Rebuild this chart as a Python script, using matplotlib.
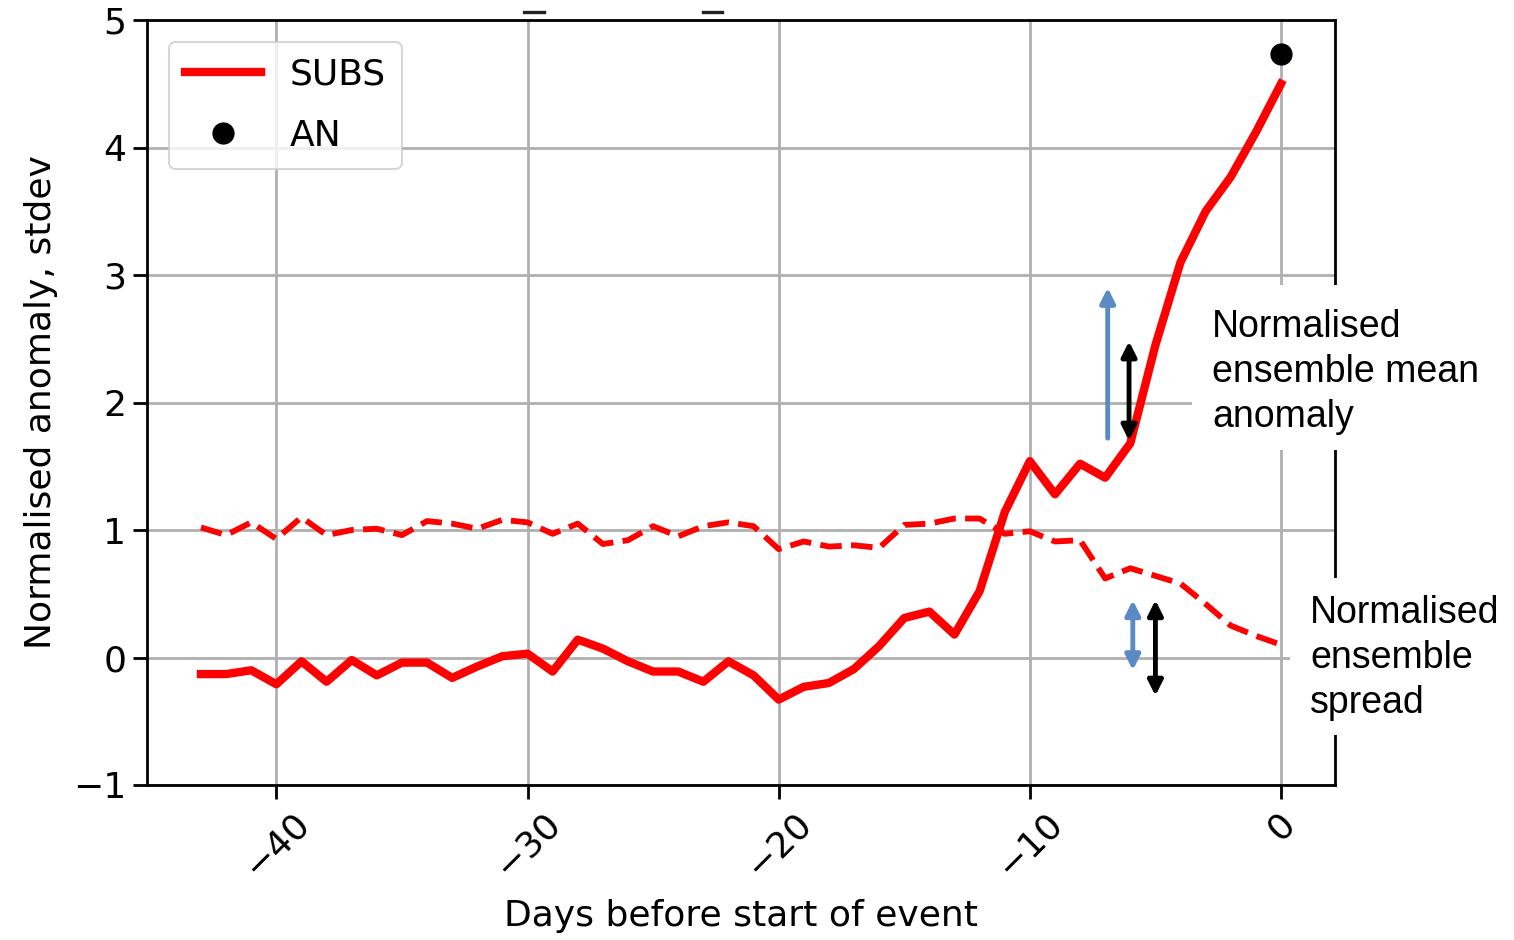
import matplotlib
matplotlib.use("Agg")
import matplotlib.pyplot as plt
from matplotlib.patches import Rectangle
from matplotlib.lines import Line2D

days = list(range(-43, 1))
subs_mean = [-0.13, -0.13, -0.10, -0.21, -0.03, -0.19, -0.02, -0.14, -0.04, -0.04,
             -0.16, -0.07, 0.01, 0.03, -0.11, 0.14, 0.07, -0.03, -0.11, -0.11,
             -0.19, -0.03, -0.14, -0.33, -0.23, -0.20, -0.09, 0.09, 0.31, 0.36,
             0.18, 0.52, 1.14, 1.54, 1.28, 1.52, 1.41, 1.68, 2.45, 3.10,
             3.50, 3.77, 4.12, 4.50]
subs_spread = [1.02, 0.96, 1.06, 0.93, 1.10, 0.96, 1.00, 1.01, 0.96, 1.07,
               1.05, 1.01, 1.08, 1.06, 0.97, 1.05, 0.89, 0.92, 1.03, 0.95,
               1.03, 1.06, 1.03, 0.85, 0.91, 0.87, 0.88, 0.86, 1.04, 1.05,
               1.09, 1.09, 0.97, 0.99, 0.91, 0.92, 0.62, 0.70, 0.64, 0.58,
               0.42, 0.25, 0.17, 0.10]
an_day = [0]
an_value = [4.73]

xticks = [-40, -30, -20, -10, 0]
yticks = [-1, 0, 1, 2, 3, 4, 5]

# annotation arrows: (x, y_start, y_end, colour, style)
arrows = [
    (-6.9, 1.72, 2.90, '#5B8BC5', '-|>'),
    (-6.05, 1.70, 2.48, 'black', '<|-|>'),
    (-5.9, -0.10, 0.45, '#5B8BC5', '<|-|>'),
    (-5.0, -0.30, 0.45, 'black', '<|-|>'),
]

fig = plt.figure(figsize=(15.14, 9.40), dpi=100)
ax = fig.add_axes([147/1514, 1-785/940, (1335-147)/1514, (785-20)/940])

ax.plot(days, subs_mean, color='red', lw=6.0, label='SUBS', zorder=3)
ax.plot(days, subs_spread, color='red', lw=4.2, ls='--', zorder=3)
ax.plot(an_day, an_value, 'o', color='black', ms=15, label='AN', zorder=4)

ax.set_ylim(-1, 5)
ax.set_xticks(xticks)
ax.set_yticks(yticks)
ax.set_xticklabels([f'\u2212{abs(t)}' if t < 0 else str(t) for t in xticks],
                   rotation=45, fontsize=26)
ax.set_yticklabels([f'\u2212{abs(t)}' if t < 0 else str(t) for t in yticks], fontsize=26)
ax.tick_params(length=10, width=2, pad=5)
ax.grid(True, color='#b0b0b0', lw=2)
for s in ax.spines.values():
    s.set_linewidth(2)
ax.set_xlabel('Days before start of event', fontsize=26, labelpad=11)
ax.set_ylabel('Normalised anomaly, stdev', fontsize=26, labelpad=11)

leg = ax.legend(loc='upper left', fontsize=26, handlelength=2.1, borderpad=0.45,
                labelspacing=0.75, borderaxespad=0.6)
leg.get_frame().set_linewidth(1.5)

for x, y0, y1, c, st in arrows:
    ax.annotate('', xy=(x, y1), xytext=(x, y0),
                arrowprops=dict(arrowstyle=st, color=c, lw=3.5,
                                mutation_scale=22, shrinkA=0, shrinkB=0),
                zorder=5)

# white boxes with explanatory text
def fig_rect(x0, y0, x1, y1):
    r = Rectangle((x0/1514, 1-y1/940), (x1-x0)/1514, (y1-y0)/940,
                  transform=fig.transFigure, facecolor='white', edgecolor='none',
                  zorder=10)
    fig.patches.append(r)

fig_rect(1192, 285, 1510, 450)
fig_rect(1290, 578, 1514, 735)
fig.text(1212/1514, 1-309/940, 'Normalised\nensemble mean\nanomaly',
         fontsize=27, family='Liberation Sans', va='top', ha='left',
         linespacing=1.32, zorder=11)
fig.text(1310/1514, 1-595/940, 'Normalised\nensemble\nspread',
         fontsize=27, family='Liberation Sans', va='top', ha='left',
         linespacing=1.32, zorder=11)

# clipped title remnants at the top
for x0, x1 in [(524, 544), (703, 722)]:
    fig.add_artist(Line2D([x0/1514, x1/1514], [1-12/940, 1-12/940],
                          transform=fig.transFigure, color='#222222', lw=2.4))

fig.savefig('out.png', dpi=100)
